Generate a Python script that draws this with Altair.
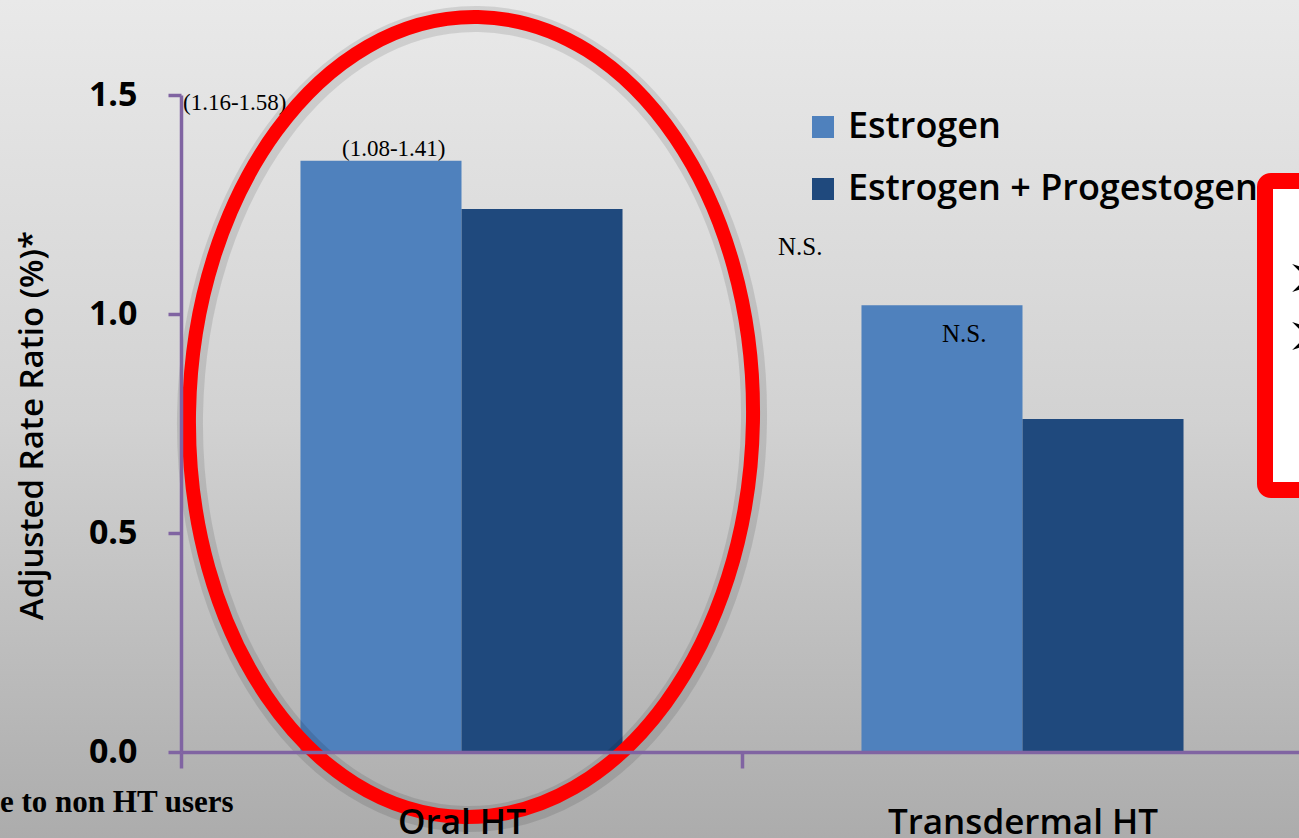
import altair as alt
import pandas as pd

# Adjusted rate ratios by route of hormone therapy
routes = ["Oral HT", "Transdermal HT"]
therapies = ["Estrogen", "Estrogen + Progestogen"]
estrogen_ratio = [1.35, 1.02]
estrogen_progestogen_ratio = [1.24, 0.76]
therapy_colors = ["#4F81BD", "#1F497D"]

y_ticks = [0.0, 0.5, 1.0, 1.5]

# Text notes placed on the slide
ci_labels = ["(1.16-1.58)", "(1.08-1.41)"]
ns_labels = ["N.S.", "N.S."]
footnote = "e to non HT users"
bullets = ["\u27a2", "\u27a2"]

rows = []
for route, e, ep in zip(routes, estrogen_ratio, estrogen_progestogen_ratio):
    rows.append({"route": route, "therapy": therapies[0], "ratio": e})
    rows.append({"route": route, "therapy": therapies[1], "ratio": ep})
df = pd.DataFrame(rows)

W, H = 1299, 838
AXIS_PURPLE = "#8064A2"
SANS = "Open Sans"
SERIF = "Liberation Serif"

# Slide background
background = alt.Chart(pd.DataFrame({"k": [0]})).mark_rect(
    color=alt.LinearGradient(
        gradient="linear",
        x1=0.5, y1=0, x2=0.5, y2=1,
        stops=[
            alt.GradientStop(offset=0, color="#e9e9e9"),
            alt.GradientStop(offset=0.5, color="#d2d2d2"),
            alt.GradientStop(offset=1, color="#acacac"),
        ],
    )
).encode(x=alt.value(0), x2=alt.value(W), y=alt.value(0), y2=alt.value(H))

# Each route fills a whole band; the pair of bars sits in the middle of it
bars = alt.Chart(df).mark_bar().encode(
    x=alt.X(
        "route:N",
        sort=routes,
        scale=alt.Scale(domain=routes, range=[181, 1303], paddingInner=0, paddingOuter=0),
        axis=alt.Axis(
            title=None,
            labelAngle=0,
            labelFont=SANS,
            labelFontSize=35,
            labelFontWeight=600,
            labelColor="black",
            labelLimit=500,
            labelPadding=37,
            domainColor=AXIS_PURPLE,
            domainWidth=3.5,
            tickColor=AXIS_PURPLE,
            tickWidth=3.5,
            tickSize=16,
            tickBand="extent",
            offset=-(H - 752),
            zindex=1,
        ),
    ),
    xOffset=alt.XOffset(
        "therapy:N", sort=therapies,
        scale=alt.Scale(domain=therapies, paddingInner=0, paddingOuter=0.742),
    ),
    y=alt.Y(
        "ratio:Q",
        scale=alt.Scale(domain=[0, 1.5], range=[752, 95]),
        axis=alt.Axis(
            title="Adjusted Rate Ratio (%)*",
            titleFont=SANS,
            titleFontSize=33,
            titleFontWeight=600,
            titleColor="black",
            titleAngle=270,
            titleAlign="center",
            titleBaseline="middle",
            titleX=-149,
            titleY=425,
            values=y_ticks,
            format=".1f",
            labelFont=SANS,
            labelFontSize=34,
            labelFontWeight="bold",
            labelColor="black",
            labelPadding=31,
            domainColor=AXIS_PURPLE,
            domainWidth=3.5,
            tickColor=AXIS_PURPLE,
            tickWidth=3.5,
            tickSize=13,
            grid=False,
            offset=-181,
            zindex=1,
        ),
    ),
    color=alt.Color(
        "therapy:N",
        sort=therapies,
        scale=alt.Scale(domain=therapies, range=therapy_colors),
        legend=alt.Legend(
            title=None,
            orient="none",
            legendX=805,
            legendY=109,
            symbolType="square",
            symbolSize=484,
            symbolStrokeWidth=0,
            symbolOpacity=1,
            labelFont=SANS,
            labelFontSize=36,
            labelFontWeight=600,
            labelColor="black",
            labelOffset=7,
            labelLimit=600,
            rowPadding=26,
        ),
    ),
)

def note(text, x, y, size, font=SERIF, weight="normal", color="black", align="left"):
    return alt.Chart(pd.DataFrame({"t": [text]})).mark_text(
        font=font, fontSize=size, fontWeight=weight, color=color,
        align=align, baseline="middle",
    ).encode(text="t:N", x=alt.value(x), y=alt.value(y))

notes = [
    note(ci_labels[0], 183, 103, 23),
    note(ci_labels[1], 342, 149, 23),
    note(ns_labels[0], 778, 247, 25),
    note(ns_labels[1], 942, 334, 25),
    note(footnote, 0, 803, 31, weight="bold"),
]

# Red ellipse drawn as a closed path of four cubic segments
K = 0.5523
A, B = 0.705, 1.0
ellipse_path = (
    f"M {-A} 0 "
    f"C {-A} {-K * B} {-K * A} {-B} 0 {-B} "
    f"C {K * A} {-B} {A} {-K * B} {A} 0 "
    f"C {A} {K * B} {K * A} {B} 0 {B} "
    f"C {-K * A} {B} {-A} {K * B} {-A} 0 Z"
)
ell_size = (2 * 400) ** 2
ell_df = pd.DataFrame({"k": [0]})
ellipse_shadow = alt.Chart(ell_df).mark_point(
    shape=ellipse_path, size=ell_size, filled=False, stroke="#000000",
    strokeWidth=26, strokeOpacity=0.15, angle=1,
).encode(x=alt.value(472), y=alt.value(419))
ellipse = alt.Chart(ell_df).mark_point(
    shape=ellipse_path, size=ell_size, filled=False, stroke="#ff0000",
    strokeWidth=14, opacity=1, angle=1,
).encode(x=alt.value(471), y=alt.value(417))

# Framed box at the right edge
box = alt.Chart(pd.DataFrame({"k": [0]})).mark_rect(
    fill="white", stroke="#ff0000", strokeWidth=16, cornerRadius=6,
).encode(x=alt.value(1265), x2=alt.value(1330), y=alt.value(181), y2=alt.value(490))

bullet_marks = [
    note(bullets[0], 1285, 279, 64, font="DejaVu Sans"),
    note(bullets[1], 1285, 337, 64, font="DejaVu Sans"),
]

chart = alt.layer(
    background, bars, *notes, ellipse_shadow, ellipse, box, *bullet_marks
).properties(
    width=W,
    height=H,
    padding=0,
    autosize=alt.AutoSizeParams(type="none"),
).configure_view(
    strokeWidth=0,
).configure(
    background="#d0d0d0",
)

chart.save("out.html", embed_options={"renderer": "svg", "actions": False})
